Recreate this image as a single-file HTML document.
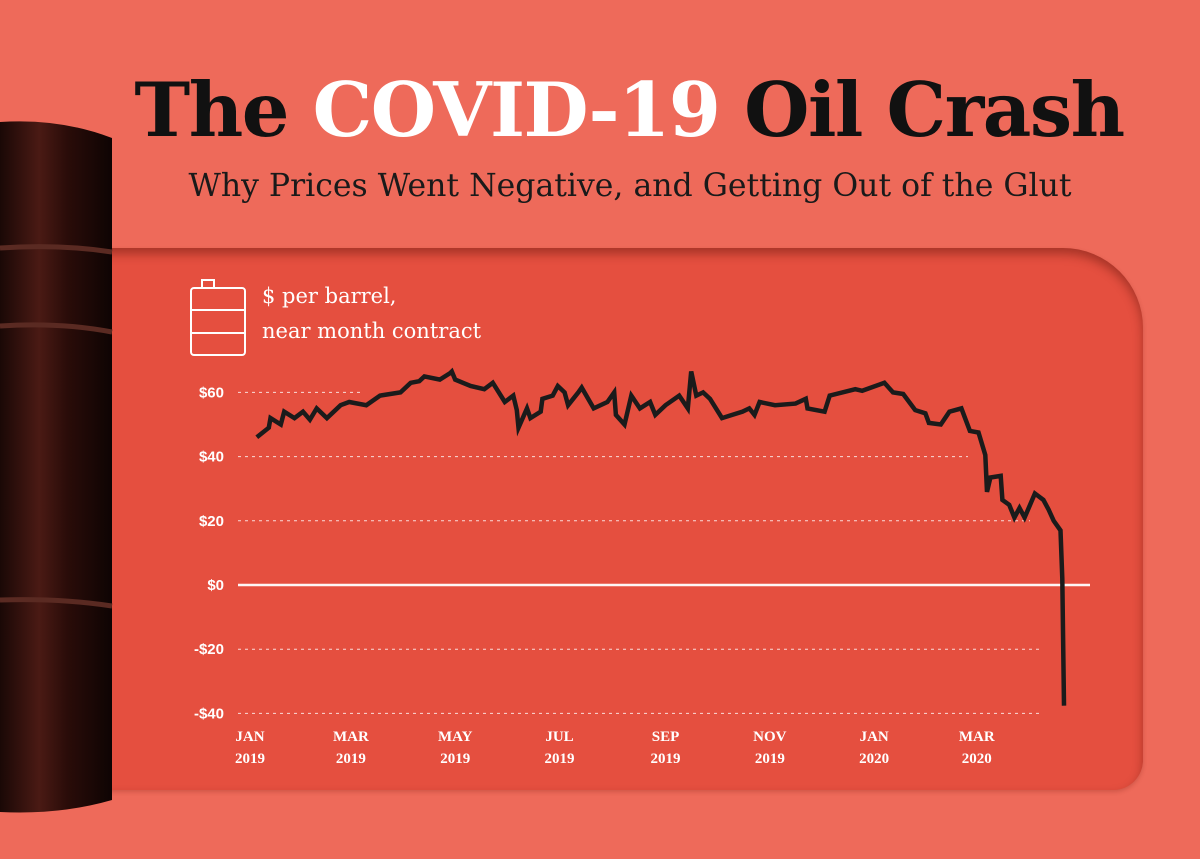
<!DOCTYPE html>
<html><head><meta charset="utf-8"><style>
body{margin:0;width:1200px;height:859px;overflow:hidden;background:#EE6A5A;position:relative;font-family:"Liberation Sans",sans-serif}
#panel{position:absolute;left:90px;top:248px;width:1053px;height:542px;background:#E54F3F;border-radius:0 80px 30px 0;box-shadow:inset 0 6px 10px rgba(90,20,10,.45),0 2px 4px rgba(120,30,20,.25)}
#title{position:absolute;left:0;width:1258px;top:66px;text-align:center;font:bold 75px "DejaVu Serif","Liberation Serif",serif;color:#111;letter-spacing:-1.5px;white-space:nowrap}
#sub{position:absolute;left:60px;width:1140px;top:168px;text-align:center;font:31.5px "DejaVu Serif","Liberation Serif",serif;color:#1a1a1a;white-space:nowrap}
</style></head><body>
<div id="panel"></div>
<div id="title">The <span style="color:#fff">COVID-19</span> Oil Crash</div>
<div id="sub">Why Prices Went Negative, and Getting Out of the Glut</div>
<svg width="1200" height="859" style="position:absolute;left:0;top:0">
<defs><linearGradient id="bg" x1="0" x2="1"><stop offset="0" stop-color="#1a0806"/><stop offset=".35" stop-color="#4a1a14"/><stop offset=".6" stop-color="#2a0c09"/><stop offset="1" stop-color="#0e0403"/></linearGradient></defs>
<g>
<path d="M0 122 Q60 118 112 138 L112 800 Q60 815 0 812 Z" fill="url(#bg)"/>
<path d="M0 248 Q60 244 112 252" stroke="#5a2a22" stroke-width="5" fill="none"/>
<path d="M0 326 Q60 322 112 332" stroke="#5a2a22" stroke-width="5" fill="none"/>
<path d="M0 600 Q60 598 112 606" stroke="#5a2a22" stroke-width="5" fill="none"/>
</g>
<g stroke="#fff" stroke-width="2" fill="none">
<rect x="191" y="288" width="54" height="67" rx="3"/><rect x="202" y="280" width="12" height="8"/>
<line x1="191" y1="310" x2="245" y2="310"/><line x1="191" y1="333" x2="245" y2="333"/>
</g>
<text x="262" y="303" fill="#fff" font-family="DejaVu Serif,serif" font-size="21">$ per barrel,</text>
<text x="262" y="338" fill="#fff" font-family="DejaVu Serif,serif" font-size="21">near month contract</text>
<g id="axes"></g><g id="line"></g>
</svg>
<script>
const yTicks=[60,40,20,0,-20,-40];
const yTickLabels=["$60","$40","$20","$0","-$20","-$40"];
const gridEnds=[360,968,1030,1090,1042,1042];
const xMonths=[0,59,120,181,243,304,365,425];
const xLabels1=["JAN","MAR","MAY","JUL","SEP","NOV","JAN","MAR"];
const xLabels2=["2019","2019","2019","2019","2019","2019","2020","2020"];
const days=[4,11,12,18,20,26,31,35,39,45,53,58,68,76,88,94,99,102,111,117,118,120,129,137,142,149,154,156,157,162,164,170,171,177,180,184,186,192,194,201,209,213,214,219,223,228,234,237,243,251,256,258,261,265,269,276,282,288,292,295,298,307,319,325,326,336,339,354,358,371,376,382,389,395,397,404,409,416,421,426,430,431,433,439,440,444,447,450,453,459,464,467,470,474,475,476];
const prices=[46,49,52,50,54,52,54,51.5,55,52,56,57,56,59,60,63,63.5,65,64,66,66.5,64,62,61,63,57,59,54.5,49,55,52,54,58,59,62,60,56,60,61.5,55,57,60,53,50,59,55,57,53,56,59,55,66.5,59,60,58,52,53,54,55,53,57,56,56.5,58,55,54,59,61,60.5,63,60,59.5,54.5,53.5,50.5,50,54,55,48,47.5,40.5,29,33.5,34,26.5,25,21,24,21,28.5,26.5,23.5,20,17,2,-37.6];
const X=d=>250+d*1.71, Y=v=>585-v*3.21;
const NS="http://www.w3.org/2000/svg";
const ax=document.getElementById('axes'), ln=document.getElementById('line');
function mk(tag,attrs,parent){const e=document.createElementNS(NS,tag);for(const k in attrs)e.setAttribute(k,attrs[k]);parent.appendChild(e);return e;}
yTicks.forEach((v,i)=>{
  const g=mk('line',{x1:238,x2:gridEnds[i],y1:Y(v),y2:Y(v),stroke:'#fff','stroke-width':v===0?2.5:1,'stroke-dasharray':v===0?'':'3 4',opacity:v===0?0.95:0.8},ax);
  
  
  const t=mk('text',{x:224,y:Y(v)+5,'text-anchor':'end',fill:'#fff','font-size':15,'font-weight':'bold','font-family':'Liberation Sans,sans-serif'},ax);
  t.textContent=yTickLabels[i];
  
  
});
xMonths.forEach((d,i)=>{
  const t=mk('text',{x:X(d),y:741,'text-anchor':'middle',fill:'#fff','font-size':15,'font-weight':'bold','font-family':'Liberation Serif,serif'},ax);
  t.textContent=xLabels1[i];
  
  
  const t2=mk('text',{x:X(d),y:763,'text-anchor':'middle',fill:'#fff','font-size':15,'font-weight':'bold','font-family':'Liberation Serif,serif'},ax);
  t2.textContent=xLabels2[i];
  
  
});
const p=mk('path',{d:days.map((d,i)=>(i?'L':'M')+X(d).toFixed(1)+' '+Y(prices[i]).toFixed(1)).join(''),fill:'none',stroke:'#1b1b1b','stroke-width':4.5,'stroke-linejoin':'miter'},ln);


</script>
</body></html>
